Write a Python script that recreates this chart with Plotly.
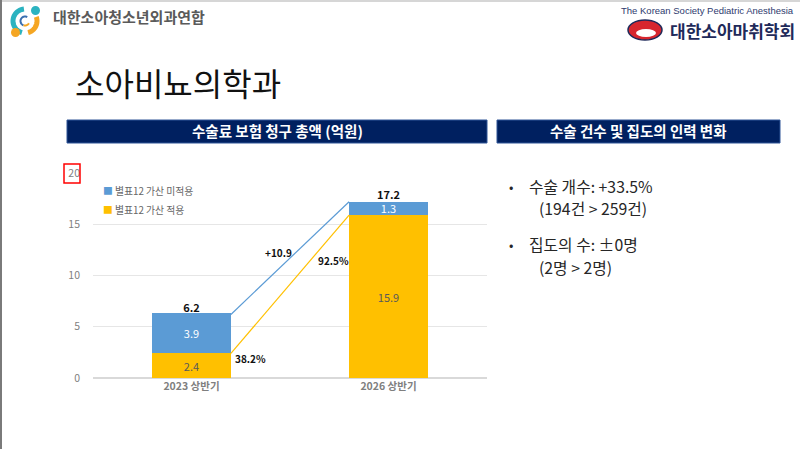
import math
import plotly.graph_objects as go

W, H = 800, 449

# Data
periods = ["2023 상반기", "2026 상반기"]
applied = [2.4, 15.9]        # 별표12 가산 적용
not_applied = [3.9, 1.3]     # 별표12 가산 미적용
totals = [6.2, 17.2]
series_names = ["별표12 가산 적용", "별표12 가산 미적용"]
change_labels = ["+10.9", "92.5%", "38.2%"]
y_ticks = [0, 5, 10, 15, 20]

FONT = "Noto Sans CJK KR"
NAVY = "#002060"
BLUE = "#5B9BD5"
YELLOW = "#FFC000"


def px(x):
    return x / W


def py(y):
    return 1 - y / H


def arc_path(cx, cy, r, a0, a1, n=30):
    pts = []
    for i in range(n + 1):
        a = math.radians(a0 + (a1 - a0) * i / n)
        pts.append((px(cx + r * math.cos(a)), py(cy - r * math.sin(a))))
    return "M " + " L ".join(f"{a:.5f},{b:.5f}" for a, b in pts)


fig = go.Figure()

xs = [0, 1]
fig.add_trace(go.Bar(
    name=series_names[0], x=xs, y=applied, width=0.4,
    marker_color=YELLOW, marker_line_width=0,
    text=[f"{v:.1f}" for v in applied], textposition="inside",
    insidetextanchor="middle", constraintext="none", textangle=0,
    textfont=dict(color="#595959", size=11, family=FONT),
    showlegend=False,
))
fig.add_trace(go.Bar(
    name=series_names[1], x=xs, y=not_applied, width=0.4,
    marker_color=BLUE, marker_line_width=0,
    text=[f"{v:.1f}" for v in not_applied], textposition="inside",
    insidetextanchor="middle", constraintext="none", textangle=0,
    textfont=dict(color="white", size=11, family=FONT),
    showlegend=False,
))

# connector lines between bar edges
fig.add_trace(go.Scatter(x=[0.2, 0.8], y=[totals[0], totals[1]], mode="lines",
                         line=dict(color=BLUE, width=1.2), showlegend=False, hoverinfo="skip"))
fig.add_trace(go.Scatter(x=[0.2, 0.8], y=[applied[0], applied[1]], mode="lines",
                         line=dict(color=YELLOW, width=1.2), showlegend=False, hoverinfo="skip"))

# totals above bars
fig.add_trace(go.Scatter(x=xs, y=totals, mode="text", text=[f"<b>{t:.1f}</b>" for t in totals],
                         textposition="top center",
                         textfont=dict(color="#111111", size=11, family=FONT),
                         showlegend=False, hoverinfo="skip"))

label_pos = [(0.44, 12.2), (0.72, 11.5), (0.30, 1.95)]
for txt, (lx, ly) in zip(change_labels, label_pos):
    fig.add_annotation(x=lx, y=ly, text=f"<b>{txt}</b>", showarrow=False,
                       font=dict(size=10, color="#111111", family=FONT))

shapes = []
# slide frame
shapes.append(dict(type="line", xref="paper", yref="paper", x0=0, x1=1, y0=py(1), y1=py(1),
                   line=dict(color="#C8C8C8", width=1.5)))
shapes.append(dict(type="line", xref="paper", yref="paper", x0=px(1), x1=px(1), y0=0, y1=1,
                   line=dict(color="#7A7A7A", width=2)))
# header bars
for x0, x1 in [(67, 487), (497, 780)]:
    shapes.append(dict(type="rect", xref="paper", yref="paper",
                       x0=px(x0), x1=px(x1), y0=py(143), y1=py(120),
                       fillcolor=NAVY, line=dict(color="#2F5597", width=1)))
# red box around top tick
shapes.append(dict(type="rect", xref="paper", yref="paper",
                   x0=px(64), x1=px(80), y0=py(183), y1=py(164),
                   line=dict(color="#FF0000", width=1.5)))
# top-left logo
shapes.append(dict(type="path", xref="paper", yref="paper", path=arc_path(25, 21, 12, 95, 255),
                   line=dict(color="#2BB3C0", width=5)))
shapes.append(dict(type="path", xref="paper", yref="paper", path=arc_path(25, 21, 12, -75, 20),
                   line=dict(color="#F5A623", width=5)))
shapes.append(dict(type="circle", xref="paper", yref="paper",
                   x0=px(31), x1=px(40), y0=py(15), y1=py(6),
                   fillcolor="#2BB3C0", line_width=0))
shapes.append(dict(type="circle", xref="paper", yref="paper",
                   x0=px(11), x1=px(20), y0=py(37), y1=py(28),
                   fillcolor="#F5A623", line_width=0))
shapes.append(dict(type="path", xref="paper", yref="paper", path=arc_path(25, 21, 4.5, 60, 250),
                   line=dict(color="#3A6FB0", width=2)))
shapes.append(dict(type="path", xref="paper", yref="paper", path=arc_path(25, 21, 4.5, 250, 330),
                   line=dict(color="#F5A623", width=2)))
# top-right logo
shapes.append(dict(type="circle", xref="paper", yref="paper",
                   x0=px(628), x1=px(662), y0=py(40), y1=py(20),
                   fillcolor="#D7262E", line=dict(color="#1F2A5A", width=1.5)))
shapes.append(dict(type="circle", xref="paper", yref="paper",
                   x0=px(636), x1=px(656), y0=py(37), y1=py(29),
                   fillcolor="white", line_width=0))

fig.update_layout(shapes=shapes)

# legend drawn as text with coloured squares (blue series listed first)
legend_rows = [(series_names[1], BLUE, 191), (series_names[0], YELLOW, 210)]
annotations = []
for name, col, yy in legend_rows:
    annotations.append(dict(x=px(101), y=py(yy),
                            text=f"<span style='color:{col}'>■</span> {name}", xanchor="left",
                            font=dict(size=9.8, color="#666666", family=FONT)))

annotations += [
    dict(x=px(51), y=py(17), text="<b>대한소아청소년외과연합</b>", xanchor="left",
         font=dict(size=15, color="#5A5A5A", family=FONT)),
    dict(x=px(796), y=py(10), text="The Korean Society Pediatric Anesthesia", xanchor="right",
         font=dict(size=9.5, color="#2E3A6E", family="Liberation Sans")),
    dict(x=px(797), y=py(30), text="<b>대한소아마취학회</b>", xanchor="right",
         font=dict(size=17, color="#1F2A5A", family=FONT)),
    dict(x=px(73), y=py(82), text="소아비뇨의학과", xanchor="left",
         font=dict(size=32, color="#111111", family=FONT)),
    dict(x=px(277), y=py(131), text="<b>수술료 보험 청구 총액 (억원)</b>", xanchor="center",
         font=dict(size=14.5, color="white", family=FONT)),
    dict(x=px(638), y=py(131), text="<b>수술 건수 및 집도의 인력 변화</b>", xanchor="center",
         font=dict(size=14.5, color="white", family=FONT)),
    dict(x=px(507), y=py(186), text="•", xanchor="left",
         font=dict(size=13, color="#262626", family=FONT)),
    dict(x=px(527), y=py(186), text="수술 개수: +33.5%", xanchor="left",
         font=dict(size=15.8, color="#262626", family=FONT)),
    dict(x=px(537), y=py(208), text="(194건 &gt; 259건)", xanchor="left",
         font=dict(size=15.8, color="#262626", family=FONT)),
    dict(x=px(507), y=py(245), text="•", xanchor="left",
         font=dict(size=13, color="#262626", family=FONT)),
    dict(x=px(527), y=py(245), text="집도의 수: ±0명", xanchor="left",
         font=dict(size=15.8, color="#262626", family=FONT)),
    dict(x=px(537), y=py(267), text="(2명 &gt; 2명)", xanchor="left",
         font=dict(size=15.8, color="#262626", family=FONT)),
]
for a in annotations:
    fig.add_annotation(xref="paper", yref="paper", showarrow=False, yanchor="middle", **a)

fig.update_layout(
    width=W, height=H,
    margin=dict(l=0, r=0, t=0, b=0, pad=0, autoexpand=False),
    paper_bgcolor="white", plot_bgcolor="white",
    barmode="stack",
    font=dict(family=FONT),
    showlegend=False,
    xaxis=dict(domain=[px(93), px(487)], range=[-0.5, 1.5], automargin=False,
               tickvals=xs, ticktext=[f"<b>{p}</b>" for p in periods],
               tickfont=dict(size=10.5, color="#7F7F7F"), showgrid=False,
               showline=False, zeroline=False, ticks=""),
    yaxis=dict(domain=[py(378), py(173)], range=[0, 20], automargin=False,
               tickvals=y_ticks, tickfont=dict(size=10.5, color="#7F7F7F"),
               gridcolor="#E6E6E6", gridwidth=1, zeroline=True,
               zerolinecolor="#D9D9D9", showline=False, ticks="",
               ticklabelstandoff=12),
)

# pin the figure to the top-left corner of the page
pin = ("document.body.style.margin='0';document.body.style.overflow='hidden';"
       "var d=document.getElementById('{plot_id}');"
       "d.style.position='fixed';d.style.left='0px';d.style.top='0px';")
fig.write_html("out.html", config={"displayModeBar": False}, post_script=pin)
